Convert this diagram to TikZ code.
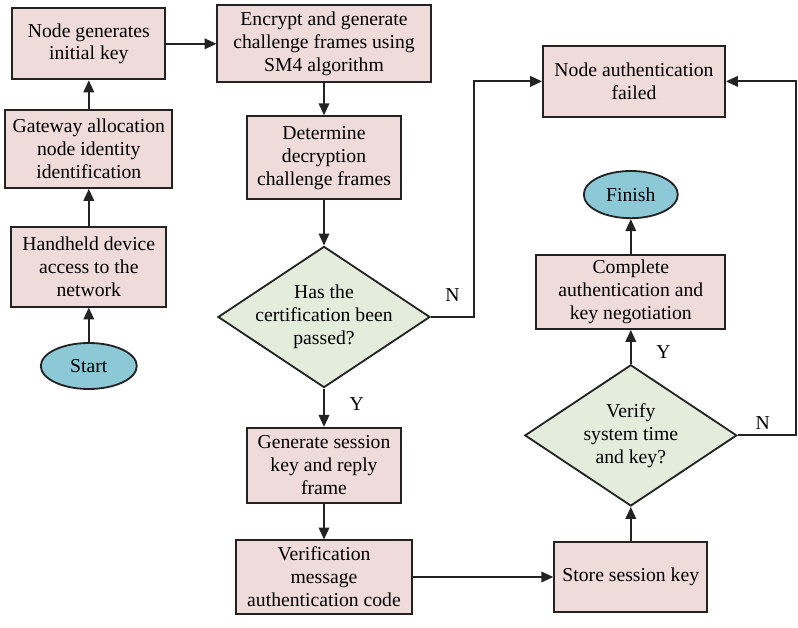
\documentclass[tikz,border=0pt]{standalone}
\usepackage{fontspec}
\setmainfont{Liberation Serif}
\usepackage{xcolor}
\usetikzlibrary{shapes.geometric,arrows.meta}

\definecolor{boxpink}{RGB}{240,219,219}
\definecolor{decgreen}{RGB}{228,236,220}
\definecolor{termblue}{RGB}{140,200,214}
\definecolor{edgegray}{RGB}{35,35,35}

\begin{document}
\begin{tikzpicture}[
  font=\fontsize{14}{16.3}\selectfont,
  proc/.style={draw=edgegray,line width=1.3pt,fill=boxpink,align=center,inner sep=2pt},
  decide/.style={diamond,draw=edgegray,line width=1.3pt,fill=decgreen,align=center,
    inner xsep=-0.7cm,inner ysep=-0.35cm,minimum width=5.3cm,minimum height=3.53cm},
  term/.style={ellipse,draw=edgegray,line width=1.3pt,fill=termblue,inner sep=0pt},
  flow/.style={draw=edgegray,line width=1.3pt,-{Triangle[length=8.5pt,width=7.5pt]}}
]
\useasboundingbox (0,0) rectangle (19.95,15.675);

% left column
\node[term,minimum width=2.4cm,minimum height=1.15cm] (start) at (2.22,6.525) {Start};
\node[proc,minimum width=3.88cm,minimum height=1.98cm] (hand) at (2.22,9.0) {Handheld device\\access to the\\network};
\node[proc,minimum width=4.18cm,minimum height=1.95cm] (gate) at (2.22,11.95) {Gateway allocation\\node identity\\identification};
\node[proc,minimum width=3.83cm,minimum height=1.78cm] (nkey) at (2.22,14.58) {Node generates\\initial key};

% middle column
\node[proc,minimum width=5.33cm,minimum height=1.93cm] (enc) at (8.1,14.58) {Encrypt and generate\\challenge frames using\\SM4 algorithm};
\node[proc,minimum width=3.83cm,minimum height=2.08cm] (det) at (8.1,11.73) {Determine\\decryption\\challenge frames};
\node[decide] (pass) at (8.1,7.75) {Has the\\certification been\\passed?};
\node[proc,minimum width=3.83cm,minimum height=1.88cm] (gen) at (8.1,4.04) {Generate session\\key and reply\\frame};
\node[proc,minimum width=4.4cm,minimum height=1.83cm] (ver) at (8.1,1.25) {Verification\\message\\authentication code};

% right column
\node[proc,minimum width=3.83cm,minimum height=1.75cm] (store) at (15.77,1.25) {Store session key};
\node[decide] (vrf) at (15.77,4.79) {Verify\\system time\\and key?};
\node[proc,minimum width=4.73cm,minimum height=1.85cm] (comp) at (15.77,8.375) {Complete\\authentication and\\key negotiation};
\node[term,minimum width=2.35cm,minimum height=1.18cm] (fin) at (15.77,10.81) {Finish};
\node[proc,minimum width=4.55cm,minimum height=1.78cm] (fail) at (15.85,13.64) {Node authentication\\failed};

% connectors
\draw[flow] (start) -- (hand);
\draw[flow] (hand) -- (gate);
\draw[flow] (gate) -- (nkey);
\draw[flow] (nkey) -- (enc);
\draw[flow] (enc) -- (det);
\draw[flow] (det) -- (pass);
\draw[flow] (pass) -- node[pos=0.4,right=0.5cm] {Y} (gen);
\draw[flow] (gen) -- (ver);
\draw[flow] (ver) -- (store);
\draw[flow] (store) -- (vrf);
\draw[flow] (vrf) -- node[pos=0.35,right=0.5cm] {Y} (comp);
\draw[flow] (comp) -- (fin);
\draw[flow] (pass.east) -- node[above=0.25cm] {N} ++(1.08,0) |- (fail.west);
\draw[flow] (vrf.east) -- node[pos=0.43,above] {N} ++(1.455,0) |- (fail.east);
\end{tikzpicture}
\end{document}
